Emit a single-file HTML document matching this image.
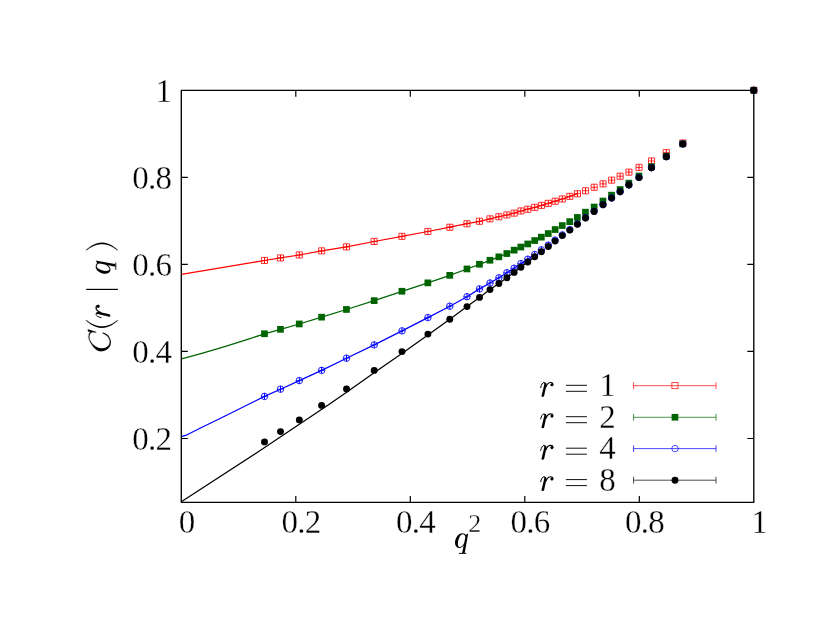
<!DOCTYPE html>
<html><head><meta charset="utf-8"><title>C(r|q) vs q^2</title>
<style>
html,body{margin:0;padding:0;background:#fff;}
body{width:830px;height:642px;overflow:hidden;position:relative;font-family:"Liberation Serif",serif;}
</style></head><body>
<svg width="830" height="642" viewBox="0 0 830 642" style="position:absolute;left:0;top:0;will-change:transform">
<rect x="0" y="0" width="830" height="642" fill="#fff"/>
<defs><g id="cmr"><path d="M0.6,-8.9 C1.2,-11.9 2.5,-13.9 4.0,-13.9 C5.0,-13.9 5.5,-12.9 5.3,-11.3" fill="none" stroke="#000" stroke-width="1.0" stroke-linecap="round"/><path d="M4.0,-13.6 C5.3,-14.2 6.7,-13.2 6.4,-11.6 L4.0,-0.4 C3.8,0.7 1.2,0.7 1.4,-0.5 L4.2,-12.0 Z" fill="#000" stroke="none"/><path d="M5.7,-9.3 C6.7,-12.0 8.6,-13.9 10.6,-13.9 C11.8,-13.9 12.8,-13.2 12.9,-12.0" fill="none" stroke="#000" stroke-width="1.15" stroke-linecap="round"/><circle cx="11.8" cy="-11.7" r="1.55" fill="#000" stroke="none"/></g><g id="cmq"><path d="M11.4,-11.3 C10.9,-13.1 9.4,-14.3 7.2,-14.3 C3.4,-14.3 0,-9.5 0,-4.8 C0,-1.5 1.8,0.45 4.2,0.45 C6.3,0.45 8.2,-1.1 9.6,-3.3 L9.3,-4.9 C8.2,-2.5 6.6,-0.55 4.9,-0.55 C3.5,-0.55 2.9,-1.9 2.9,-3.7 C2.9,-7.5 5.0,-13.35 7.6,-13.35 C9.2,-13.35 10.3,-12.0 10.6,-10.2 Z" fill="#000" stroke="none"/><path d="M10.9,-12.9 L13.2,-14.0 L9.7,5.4 L7.1,5.4 Z" fill="#000" stroke="none"/><path d="M4.0,5.8 H11.3" stroke="#000" stroke-width="0.95" fill="none"/></g><g id="cmC"><path d="M20.7,-19.4 C19.0,-21.3 16.5,-21.9 14.0,-21.4 C8.5,-19.8 0.6,-14.5 0.6,-9.3 C0.6,-3.6 4.5,0.9 9.9,0.9 C14.5,0.9 18.6,-2.5 19.6,-7.3 L18.6,-7.6 C17.5,-3.6 14.0,-0.35 10.3,-0.35 C6.6,-0.35 3.8,-3.2 3.8,-8.0 C3.8,-13.6 9.3,-20.4 14.8,-20.4 C17.2,-20.6 19.0,-19.6 19.8,-17.6 Z" fill="#000" stroke="none"/><path d="M22.8,-22.2 L20.5,-21.9 L19.3,-14.0 L20.1,-13.5 Z" fill="#000" stroke="none"/></g></defs>
<polyline fill="none" stroke="#ff0000" stroke-width="1.25" stroke-linejoin="round" points="181.4,274.4 264.5,260.5 280.5,257.9 299.3,255.0 321.6,250.9 346.5,246.9 374.2,241.5 402.0,236.4 427.9,231.5 449.8,227.2 467.0,223.7 479.5,221.3 490.0,218.9 498.9,216.7 506.9,215.0 514.1,213.1 520.9,211.0 527.8,209.2 534.7,207.4 541.4,205.4 548.3,203.4 555.1,201.2 562.3,199.0 569.8,196.4 577.4,193.7"/>
<path d="M261.4 257.4h6.10v6.10h-6.10z M261.4 260.5h6.10" fill="none" stroke="#ff0000" stroke-width="0.8"/><path d="M264.5 257.4v6.10" stroke="#ff0000" stroke-width="1.0"/>
<path d="M277.4 254.9h6.10v6.10h-6.10z M277.4 257.9h6.10" fill="none" stroke="#ff0000" stroke-width="0.8"/><path d="M280.5 254.9v6.10" stroke="#ff0000" stroke-width="1.0"/>
<path d="M296.2 251.9h6.10v6.10h-6.10z M296.2 255.0h6.10" fill="none" stroke="#ff0000" stroke-width="0.8"/><path d="M299.3 251.9v6.10" stroke="#ff0000" stroke-width="1.0"/>
<path d="M318.6 247.8h6.10v6.10h-6.10z M318.6 250.9h6.10" fill="none" stroke="#ff0000" stroke-width="0.8"/><path d="M321.6 247.8v6.10" stroke="#ff0000" stroke-width="1.0"/>
<path d="M343.4 243.8h6.10v6.10h-6.10z M343.4 246.9h6.10" fill="none" stroke="#ff0000" stroke-width="0.8"/><path d="M346.5 243.8v6.10" stroke="#ff0000" stroke-width="1.0"/>
<path d="M371.1 238.4h6.10v6.10h-6.10z M371.1 241.5h6.10" fill="none" stroke="#ff0000" stroke-width="0.8"/><path d="M374.2 238.4v6.10" stroke="#ff0000" stroke-width="1.0"/>
<path d="M398.9 233.3h6.10v6.10h-6.10z M398.9 236.4h6.10" fill="none" stroke="#ff0000" stroke-width="0.8"/><path d="M402.0 233.3v6.10" stroke="#ff0000" stroke-width="1.0"/>
<path d="M424.8 228.4h6.10v6.10h-6.10z M424.8 231.5h6.10" fill="none" stroke="#ff0000" stroke-width="0.8"/><path d="M427.9 228.4v6.10" stroke="#ff0000" stroke-width="1.0"/>
<path d="M446.8 224.2h6.10v6.10h-6.10z M446.8 227.2h6.10" fill="none" stroke="#ff0000" stroke-width="0.8"/><path d="M449.8 224.2v6.10" stroke="#ff0000" stroke-width="1.0"/>
<path d="M463.9 220.7h6.10v6.10h-6.10z M463.9 223.7h6.10" fill="none" stroke="#ff0000" stroke-width="0.8"/><path d="M467.0 220.7v6.10" stroke="#ff0000" stroke-width="1.0"/>
<path d="M476.4 218.2h6.10v6.10h-6.10z M476.4 221.3h6.10" fill="none" stroke="#ff0000" stroke-width="0.8"/><path d="M479.5 218.2v6.10" stroke="#ff0000" stroke-width="1.0"/>
<path d="M486.9 215.8h6.10v6.10h-6.10z M486.9 218.9h6.10" fill="none" stroke="#ff0000" stroke-width="0.8"/><path d="M490.0 215.8v6.10" stroke="#ff0000" stroke-width="1.0"/>
<path d="M495.8 213.7h6.10v6.10h-6.10z M495.8 216.7h6.10" fill="none" stroke="#ff0000" stroke-width="0.8"/><path d="M498.9 213.7v6.10" stroke="#ff0000" stroke-width="1.0"/>
<path d="M503.8 211.9h6.10v6.10h-6.10z M503.8 215.0h6.10" fill="none" stroke="#ff0000" stroke-width="0.8"/><path d="M506.9 211.9v6.10" stroke="#ff0000" stroke-width="1.0"/>
<path d="M511.1 210.1h6.10v6.10h-6.10z M511.1 213.1h6.10" fill="none" stroke="#ff0000" stroke-width="0.8"/><path d="M514.1 210.1v6.10" stroke="#ff0000" stroke-width="1.0"/>
<path d="M517.9 207.9h6.10v6.10h-6.10z M517.9 211.0h6.10" fill="none" stroke="#ff0000" stroke-width="0.8"/><path d="M520.9 207.9v6.10" stroke="#ff0000" stroke-width="1.0"/>
<path d="M524.8 206.2h6.10v6.10h-6.10z M524.8 209.2h6.10" fill="none" stroke="#ff0000" stroke-width="0.8"/><path d="M527.8 206.2v6.10" stroke="#ff0000" stroke-width="1.0"/>
<path d="M531.7 204.3h6.10v6.10h-6.10z M531.7 207.4h6.10" fill="none" stroke="#ff0000" stroke-width="0.8"/><path d="M534.7 204.3v6.10" stroke="#ff0000" stroke-width="1.0"/>
<path d="M538.4 202.3h6.10v6.10h-6.10z M538.4 205.4h6.10" fill="none" stroke="#ff0000" stroke-width="0.8"/><path d="M541.4 202.3v6.10" stroke="#ff0000" stroke-width="1.0"/>
<path d="M545.2 200.3h6.10v6.10h-6.10z M545.2 203.4h6.10" fill="none" stroke="#ff0000" stroke-width="0.8"/><path d="M548.3 200.3v6.10" stroke="#ff0000" stroke-width="1.0"/>
<path d="M552.1 198.2h6.10v6.10h-6.10z M552.1 201.2h6.10" fill="none" stroke="#ff0000" stroke-width="0.8"/><path d="M555.1 198.2v6.10" stroke="#ff0000" stroke-width="1.0"/>
<path d="M559.2 195.9h6.10v6.10h-6.10z M559.2 199.0h6.10" fill="none" stroke="#ff0000" stroke-width="0.8"/><path d="M562.3 195.9v6.10" stroke="#ff0000" stroke-width="1.0"/>
<path d="M566.8 193.3h6.10v6.10h-6.10z M566.8 196.4h6.10" fill="none" stroke="#ff0000" stroke-width="0.8"/><path d="M569.8 193.3v6.10" stroke="#ff0000" stroke-width="1.0"/>
<path d="M574.4 190.7h6.10v6.10h-6.10z M574.4 193.7h6.10" fill="none" stroke="#ff0000" stroke-width="0.8"/><path d="M577.4 190.7v6.10" stroke="#ff0000" stroke-width="1.0"/>
<path d="M582.5 187.7h6.10v6.10h-6.10z M582.5 190.7h6.10" fill="none" stroke="#ff0000" stroke-width="0.8"/><path d="M585.5 187.7v6.10" stroke="#ff0000" stroke-width="1.0"/>
<path d="M591.1 184.2h6.10v6.10h-6.10z M591.1 187.3h6.10" fill="none" stroke="#ff0000" stroke-width="0.8"/><path d="M594.1 184.2v6.10" stroke="#ff0000" stroke-width="1.0"/>
<path d="M600.0 180.8h6.10v6.10h-6.10z M600.0 183.9h6.10" fill="none" stroke="#ff0000" stroke-width="0.8"/><path d="M603.0 180.8v6.10" stroke="#ff0000" stroke-width="1.0"/>
<path d="M608.6 177.1h6.10v6.10h-6.10z M608.6 180.1h6.10" fill="none" stroke="#ff0000" stroke-width="0.8"/><path d="M611.6 177.1v6.10" stroke="#ff0000" stroke-width="1.0"/>
<path d="M617.1 173.2h6.10v6.10h-6.10z M617.1 176.2h6.10" fill="none" stroke="#ff0000" stroke-width="0.8"/><path d="M620.1 173.2v6.10" stroke="#ff0000" stroke-width="1.0"/>
<path d="M625.9 169.1h6.10v6.10h-6.10z M625.9 172.1h6.10" fill="none" stroke="#ff0000" stroke-width="0.8"/><path d="M628.9 169.1v6.10" stroke="#ff0000" stroke-width="1.0"/>
<path d="M636.0 164.3h6.10v6.10h-6.10z M636.0 167.4h6.10" fill="none" stroke="#ff0000" stroke-width="0.8"/><path d="M639.0 164.3v6.10" stroke="#ff0000" stroke-width="1.0"/>
<path d="M648.5 157.9h6.10v6.10h-6.10z M648.5 161.0h6.10" fill="none" stroke="#ff0000" stroke-width="0.8"/><path d="M651.5 157.9v6.10" stroke="#ff0000" stroke-width="1.0"/>
<path d="M663.2 149.6h6.10v6.10h-6.10z M663.2 152.6h6.10" fill="none" stroke="#ff0000" stroke-width="0.8"/><path d="M666.3 149.6v6.10" stroke="#ff0000" stroke-width="1.0"/>
<path d="M679.8 139.9h6.10v6.10h-6.10z M679.8 143.0h6.10" fill="none" stroke="#ff0000" stroke-width="0.8"/><path d="M682.8 139.9v6.10" stroke="#ff0000" stroke-width="1.0"/>
<path d="M750.8 87.2h6.10v6.10h-6.10z M750.8 90.3h6.10" fill="none" stroke="#ff0000" stroke-width="0.8"/><path d="M753.8 87.2v6.10" stroke="#ff0000" stroke-width="1.0"/>
<polyline fill="none" stroke="#006400" stroke-width="1.25" stroke-linejoin="round" points="181.4,358.9 190.0,356.6 200.0,353.8 212.0,350.4 223.0,347.1 235.0,343.4 250.0,338.6 264.5,333.8 280.5,329.4 299.3,324.0 321.6,317.2 346.5,309.5 374.2,300.7 402.0,291.3 427.9,282.9 449.8,275.4 467.0,269.0 479.5,264.3 490.0,260.3 498.9,256.9 506.9,253.5 514.1,250.1 520.9,247.0 527.8,243.9 534.7,240.5"/>
<rect x="261.1" y="330.4" width="6.7" height="6.7" fill="#006400"/>
<rect x="277.1" y="326.0" width="6.7" height="6.7" fill="#006400"/>
<rect x="295.9" y="320.6" width="6.7" height="6.7" fill="#006400"/>
<rect x="318.2" y="313.8" width="6.7" height="6.7" fill="#006400"/>
<rect x="343.1" y="306.1" width="6.7" height="6.7" fill="#006400"/>
<rect x="370.8" y="297.3" width="6.7" height="6.7" fill="#006400"/>
<rect x="398.6" y="287.9" width="6.7" height="6.7" fill="#006400"/>
<rect x="424.5" y="279.5" width="6.7" height="6.7" fill="#006400"/>
<rect x="446.4" y="272.0" width="6.7" height="6.7" fill="#006400"/>
<rect x="463.6" y="265.6" width="6.7" height="6.7" fill="#006400"/>
<rect x="476.1" y="260.9" width="6.7" height="6.7" fill="#006400"/>
<rect x="486.6" y="256.9" width="6.7" height="6.7" fill="#006400"/>
<rect x="495.5" y="253.5" width="6.7" height="6.7" fill="#006400"/>
<rect x="503.5" y="250.2" width="6.7" height="6.7" fill="#006400"/>
<rect x="510.8" y="246.8" width="6.7" height="6.7" fill="#006400"/>
<rect x="517.5" y="243.7" width="6.7" height="6.7" fill="#006400"/>
<rect x="524.4" y="240.6" width="6.7" height="6.7" fill="#006400"/>
<rect x="531.4" y="237.2" width="6.7" height="6.7" fill="#006400"/>
<rect x="538.0" y="233.8" width="6.7" height="6.7" fill="#006400"/>
<rect x="544.9" y="230.2" width="6.7" height="6.7" fill="#006400"/>
<rect x="551.8" y="226.2" width="6.7" height="6.7" fill="#006400"/>
<rect x="558.9" y="222.2" width="6.7" height="6.7" fill="#006400"/>
<rect x="566.4" y="218.3" width="6.7" height="6.7" fill="#006400"/>
<rect x="574.0" y="214.1" width="6.7" height="6.7" fill="#006400"/>
<rect x="582.1" y="208.8" width="6.7" height="6.7" fill="#006400"/>
<rect x="590.8" y="203.7" width="6.7" height="6.7" fill="#006400"/>
<rect x="599.6" y="197.7" width="6.7" height="6.7" fill="#006400"/>
<rect x="608.2" y="191.8" width="6.7" height="6.7" fill="#006400"/>
<rect x="616.8" y="186.2" width="6.7" height="6.7" fill="#006400"/>
<rect x="625.5" y="179.8" width="6.7" height="6.7" fill="#006400"/>
<rect x="635.6" y="172.6" width="6.7" height="6.7" fill="#006400"/>
<rect x="648.1" y="163.2" width="6.7" height="6.7" fill="#006400"/>
<rect x="662.9" y="152.8" width="6.7" height="6.7" fill="#006400"/>
<rect x="679.4" y="140.5" width="6.7" height="6.7" fill="#006400"/>
<rect x="750.4" y="87.0" width="6.7" height="6.7" fill="#006400"/>
<polyline fill="none" stroke="#0000ff" stroke-width="1.25" stroke-linejoin="round" points="181.4,436.6 187.1,434.8 200.0,428.3 225.6,415.8 264.5,396.4 280.5,389.2 299.3,380.6 321.6,370.4 346.5,358.2 374.2,344.9 402.0,330.9 427.9,317.6 449.8,306.2 467.0,296.7 479.5,288.9 490.0,283.0 498.9,277.8 506.9,272.7 514.1,268.2 520.9,263.6 527.8,259.2 534.7,254.5"/>
<circle cx="264.5" cy="396.4" r="3.25" fill="none" stroke="#0000ff" stroke-width="0.85"/>
<path d="M261.2 396.4h6.50" stroke="#0000ff" stroke-width="0.8"/><path d="M264.5 393.1v6.50" stroke="#0000ff" stroke-width="1.05"/>
<circle cx="280.5" cy="389.2" r="3.25" fill="none" stroke="#0000ff" stroke-width="0.85"/>
<path d="M277.2 389.2h6.50" stroke="#0000ff" stroke-width="0.8"/><path d="M280.5 385.9v6.50" stroke="#0000ff" stroke-width="1.05"/>
<circle cx="299.3" cy="380.6" r="3.25" fill="none" stroke="#0000ff" stroke-width="0.85"/>
<path d="M296.1 380.6h6.50" stroke="#0000ff" stroke-width="0.8"/><path d="M299.3 377.3v6.50" stroke="#0000ff" stroke-width="1.05"/>
<circle cx="321.6" cy="370.4" r="3.25" fill="none" stroke="#0000ff" stroke-width="0.85"/>
<path d="M318.4 370.4h6.50" stroke="#0000ff" stroke-width="0.8"/><path d="M321.6 367.1v6.50" stroke="#0000ff" stroke-width="1.05"/>
<circle cx="346.5" cy="358.2" r="3.25" fill="none" stroke="#0000ff" stroke-width="0.85"/>
<path d="M343.2 358.2h6.50" stroke="#0000ff" stroke-width="0.8"/><path d="M346.5 354.9v6.50" stroke="#0000ff" stroke-width="1.05"/>
<circle cx="374.2" cy="344.9" r="3.25" fill="none" stroke="#0000ff" stroke-width="0.85"/>
<path d="M370.9 344.9h6.50" stroke="#0000ff" stroke-width="0.8"/><path d="M374.2 341.6v6.50" stroke="#0000ff" stroke-width="1.05"/>
<circle cx="402.0" cy="330.9" r="3.25" fill="none" stroke="#0000ff" stroke-width="0.85"/>
<path d="M398.8 330.9h6.50" stroke="#0000ff" stroke-width="0.8"/><path d="M402.0 327.6v6.50" stroke="#0000ff" stroke-width="1.05"/>
<circle cx="427.9" cy="317.6" r="3.25" fill="none" stroke="#0000ff" stroke-width="0.85"/>
<path d="M424.6 317.6h6.50" stroke="#0000ff" stroke-width="0.8"/><path d="M427.9 314.3v6.50" stroke="#0000ff" stroke-width="1.05"/>
<circle cx="449.8" cy="306.2" r="3.25" fill="none" stroke="#0000ff" stroke-width="0.85"/>
<path d="M446.6 306.2h6.50" stroke="#0000ff" stroke-width="0.8"/><path d="M449.8 302.9v6.50" stroke="#0000ff" stroke-width="1.05"/>
<circle cx="467.0" cy="296.7" r="3.25" fill="none" stroke="#0000ff" stroke-width="0.85"/>
<path d="M463.8 296.7h6.50" stroke="#0000ff" stroke-width="0.8"/><path d="M467.0 293.4v6.50" stroke="#0000ff" stroke-width="1.05"/>
<circle cx="479.5" cy="288.9" r="3.25" fill="none" stroke="#0000ff" stroke-width="0.85"/>
<path d="M476.2 288.9h6.50" stroke="#0000ff" stroke-width="0.8"/><path d="M479.5 285.6v6.50" stroke="#0000ff" stroke-width="1.05"/>
<circle cx="490.0" cy="283.0" r="3.25" fill="none" stroke="#0000ff" stroke-width="0.85"/>
<path d="M486.8 283.0h6.50" stroke="#0000ff" stroke-width="0.8"/><path d="M490.0 279.8v6.50" stroke="#0000ff" stroke-width="1.05"/>
<circle cx="498.9" cy="277.8" r="3.25" fill="none" stroke="#0000ff" stroke-width="0.85"/>
<path d="M495.6 277.8h6.50" stroke="#0000ff" stroke-width="0.8"/><path d="M498.9 274.6v6.50" stroke="#0000ff" stroke-width="1.05"/>
<circle cx="506.9" cy="272.7" r="3.25" fill="none" stroke="#0000ff" stroke-width="0.85"/>
<path d="M503.6 272.7h6.50" stroke="#0000ff" stroke-width="0.8"/><path d="M506.9 269.4v6.50" stroke="#0000ff" stroke-width="1.05"/>
<circle cx="514.1" cy="268.2" r="3.25" fill="none" stroke="#0000ff" stroke-width="0.85"/>
<path d="M510.9 268.2h6.50" stroke="#0000ff" stroke-width="0.8"/><path d="M514.1 264.9v6.50" stroke="#0000ff" stroke-width="1.05"/>
<circle cx="520.9" cy="263.6" r="3.25" fill="none" stroke="#0000ff" stroke-width="0.85"/>
<path d="M517.6 263.6h6.50" stroke="#0000ff" stroke-width="0.8"/><path d="M520.9 260.4v6.50" stroke="#0000ff" stroke-width="1.05"/>
<circle cx="527.8" cy="259.2" r="3.25" fill="none" stroke="#0000ff" stroke-width="0.85"/>
<path d="M524.5 259.2h6.50" stroke="#0000ff" stroke-width="0.8"/><path d="M527.8 255.9v6.50" stroke="#0000ff" stroke-width="1.05"/>
<circle cx="534.7" cy="254.5" r="3.25" fill="none" stroke="#0000ff" stroke-width="0.85"/>
<path d="M531.5 254.5h6.50" stroke="#0000ff" stroke-width="0.8"/><path d="M534.7 251.2v6.50" stroke="#0000ff" stroke-width="1.05"/>
<circle cx="541.4" cy="249.8" r="3.25" fill="none" stroke="#0000ff" stroke-width="0.85"/>
<path d="M538.1 249.8h6.50" stroke="#0000ff" stroke-width="0.8"/><path d="M541.4 246.5v6.50" stroke="#0000ff" stroke-width="1.05"/>
<circle cx="548.3" cy="245.1" r="3.25" fill="none" stroke="#0000ff" stroke-width="0.85"/>
<path d="M545.0 245.1h6.50" stroke="#0000ff" stroke-width="0.8"/><path d="M548.3 241.8v6.50" stroke="#0000ff" stroke-width="1.05"/>
<circle cx="555.1" cy="240.1" r="3.25" fill="none" stroke="#0000ff" stroke-width="0.85"/>
<path d="M551.9 240.1h6.50" stroke="#0000ff" stroke-width="0.8"/><path d="M555.1 236.8v6.50" stroke="#0000ff" stroke-width="1.05"/>
<circle cx="562.3" cy="234.9" r="3.25" fill="none" stroke="#0000ff" stroke-width="0.85"/>
<path d="M559.0 234.9h6.50" stroke="#0000ff" stroke-width="0.8"/><path d="M562.3 231.7v6.50" stroke="#0000ff" stroke-width="1.05"/>
<circle cx="569.8" cy="229.6" r="3.25" fill="none" stroke="#0000ff" stroke-width="0.85"/>
<path d="M566.5 229.6h6.50" stroke="#0000ff" stroke-width="0.8"/><path d="M569.8 226.3v6.50" stroke="#0000ff" stroke-width="1.05"/>
<circle cx="577.4" cy="223.9" r="3.25" fill="none" stroke="#0000ff" stroke-width="0.85"/>
<path d="M574.1 223.9h6.50" stroke="#0000ff" stroke-width="0.8"/><path d="M577.4 220.7v6.50" stroke="#0000ff" stroke-width="1.05"/>
<circle cx="585.5" cy="217.7" r="3.25" fill="none" stroke="#0000ff" stroke-width="0.85"/>
<path d="M582.2 217.7h6.50" stroke="#0000ff" stroke-width="0.8"/><path d="M585.5 214.4v6.50" stroke="#0000ff" stroke-width="1.05"/>
<circle cx="594.1" cy="211.3" r="3.25" fill="none" stroke="#0000ff" stroke-width="0.85"/>
<path d="M590.9 211.3h6.50" stroke="#0000ff" stroke-width="0.8"/><path d="M594.1 208.1v6.50" stroke="#0000ff" stroke-width="1.05"/>
<circle cx="603.0" cy="204.6" r="3.25" fill="none" stroke="#0000ff" stroke-width="0.85"/>
<path d="M599.8 204.6h6.50" stroke="#0000ff" stroke-width="0.8"/><path d="M603.0 201.3v6.50" stroke="#0000ff" stroke-width="1.05"/>
<circle cx="611.6" cy="198.0" r="3.25" fill="none" stroke="#0000ff" stroke-width="0.85"/>
<path d="M608.4 198.0h6.50" stroke="#0000ff" stroke-width="0.8"/><path d="M611.6 194.8v6.50" stroke="#0000ff" stroke-width="1.05"/>
<circle cx="620.1" cy="191.7" r="3.25" fill="none" stroke="#0000ff" stroke-width="0.85"/>
<path d="M616.9 191.7h6.50" stroke="#0000ff" stroke-width="0.8"/><path d="M620.1 188.5v6.50" stroke="#0000ff" stroke-width="1.05"/>
<circle cx="628.9" cy="184.9" r="3.25" fill="none" stroke="#0000ff" stroke-width="0.85"/>
<path d="M625.6 184.9h6.50" stroke="#0000ff" stroke-width="0.8"/><path d="M628.9 181.7v6.50" stroke="#0000ff" stroke-width="1.05"/>
<circle cx="639.0" cy="177.5" r="3.25" fill="none" stroke="#0000ff" stroke-width="0.85"/>
<path d="M635.8 177.5h6.50" stroke="#0000ff" stroke-width="0.8"/><path d="M639.0 174.2v6.50" stroke="#0000ff" stroke-width="1.05"/>
<circle cx="651.5" cy="167.7" r="3.25" fill="none" stroke="#0000ff" stroke-width="0.85"/>
<path d="M648.2 167.7h6.50" stroke="#0000ff" stroke-width="0.8"/><path d="M651.5 164.5v6.50" stroke="#0000ff" stroke-width="1.05"/>
<circle cx="666.3" cy="156.7" r="3.25" fill="none" stroke="#0000ff" stroke-width="0.85"/>
<path d="M663.0 156.7h6.50" stroke="#0000ff" stroke-width="0.8"/><path d="M666.3 153.4v6.50" stroke="#0000ff" stroke-width="1.05"/>
<circle cx="682.8" cy="143.9" r="3.25" fill="none" stroke="#0000ff" stroke-width="0.85"/>
<path d="M679.5 143.9h6.50" stroke="#0000ff" stroke-width="0.8"/><path d="M682.8 140.7v6.50" stroke="#0000ff" stroke-width="1.05"/>
<circle cx="753.8" cy="90.3" r="3.25" fill="none" stroke="#0000ff" stroke-width="0.85"/>
<path d="M750.5 90.3h6.50" stroke="#0000ff" stroke-width="0.8"/><path d="M753.8 87.0v6.50" stroke="#0000ff" stroke-width="1.05"/>
<polyline fill="none" stroke="#000" stroke-width="1.25" stroke-linejoin="round" points="181.7,501.4 257.9,451.9 330.0,403.7 346.6,392.2 374.1,372.8 401.9,353.5 427.9,334.9 449.5,319.4 467.0,306.6 479.5,297.4 490.0,289.6 498.9,283.5 506.9,277.8 514.1,272.4 520.9,267.2 527.8,262.0 534.7,256.8"/>
<circle cx="264.5" cy="441.9" r="3.45" fill="#000"/>
<circle cx="280.5" cy="431.6" r="3.45" fill="#000"/>
<circle cx="299.3" cy="419.9" r="3.45" fill="#000"/>
<circle cx="321.6" cy="405.4" r="3.45" fill="#000"/>
<circle cx="346.5" cy="388.9" r="3.45" fill="#000"/>
<circle cx="374.2" cy="370.4" r="3.45" fill="#000"/>
<circle cx="402.0" cy="351.6" r="3.45" fill="#000"/>
<circle cx="427.9" cy="334.1" r="3.45" fill="#000"/>
<circle cx="449.8" cy="319.2" r="3.45" fill="#000"/>
<circle cx="467.0" cy="306.6" r="3.45" fill="#000"/>
<circle cx="479.5" cy="297.4" r="3.45" fill="#000"/>
<circle cx="490.0" cy="289.6" r="3.45" fill="#000"/>
<circle cx="498.9" cy="283.5" r="3.45" fill="#000"/>
<circle cx="506.9" cy="277.8" r="3.45" fill="#000"/>
<circle cx="514.1" cy="272.4" r="3.45" fill="#000"/>
<circle cx="520.9" cy="267.2" r="3.45" fill="#000"/>
<circle cx="527.8" cy="262.0" r="3.45" fill="#000"/>
<circle cx="534.7" cy="256.8" r="3.45" fill="#000"/>
<circle cx="541.4" cy="251.7" r="3.45" fill="#000"/>
<circle cx="548.3" cy="246.5" r="3.45" fill="#000"/>
<circle cx="555.1" cy="241.1" r="3.45" fill="#000"/>
<circle cx="562.3" cy="235.6" r="3.45" fill="#000"/>
<circle cx="569.8" cy="230.1" r="3.45" fill="#000"/>
<circle cx="577.4" cy="224.3" r="3.45" fill="#000"/>
<circle cx="585.5" cy="218.0" r="3.45" fill="#000"/>
<circle cx="594.1" cy="211.5" r="3.45" fill="#000"/>
<circle cx="603.0" cy="204.7" r="3.45" fill="#000"/>
<circle cx="611.6" cy="198.1" r="3.45" fill="#000"/>
<circle cx="620.1" cy="191.8" r="3.45" fill="#000"/>
<circle cx="628.9" cy="185.0" r="3.45" fill="#000"/>
<circle cx="639.0" cy="177.6" r="3.45" fill="#000"/>
<circle cx="651.5" cy="167.8" r="3.45" fill="#000"/>
<circle cx="666.3" cy="156.8" r="3.45" fill="#000"/>
<circle cx="682.8" cy="144.0" r="3.45" fill="#000"/>
<circle cx="753.8" cy="90.3" r="3.45" fill="#000"/>
<rect x="181.3" y="90.3" width="572.5" height="412.1" fill="none" stroke="#000" stroke-width="1.35" stroke-linejoin="round"/>
<path d="M295.8 502.4v-6.5 M295.8 90.3v6.5 M410.3 502.4v-6.5 M410.3 90.3v6.5 M524.8 502.4v-6.5 M524.8 90.3v6.5 M639.3 502.4v-6.5 M639.3 90.3v6.5 M181.3 438.5h6.5 M753.8 438.5h-6.5 M181.3 351.4h6.5 M753.8 351.4h-6.5 M181.3 264.4h6.5 M753.8 264.4h-6.5 M181.3 177.3h6.5 M753.8 177.3h-6.5" stroke="#000" stroke-width="1.2" fill="none"/>
<g opacity="0.999" style="font-family:'Liberation Serif',serif" font-size="33" letter-spacing="-0.7" fill="#000" stroke="#fff" stroke-width="0.3">
<text x="171.3" y="101.7" text-anchor="end">1</text>
<text x="171.3" y="188.7" text-anchor="end">0.8</text>
<text x="171.3" y="275.8" text-anchor="end">0.6</text>
<text x="171.3" y="362.8" text-anchor="end">0.4</text>
<text x="171.3" y="449.9" text-anchor="end">0.2</text>
<text x="186.6" y="532.7" text-anchor="middle">0</text>
<text x="301.1" y="532.7" text-anchor="middle">0.2</text>
<text x="415.6" y="532.7" text-anchor="middle">0.4</text>
<text x="530.1" y="532.7" text-anchor="middle">0.6</text>
<text x="644.6" y="532.7" text-anchor="middle">0.8</text>
<text x="759.1" y="532.7" text-anchor="middle">1</text>
<use href="#cmq" x="455.0" y="547.6"/>
<text x="468.3" y="532.3" font-size="26">2</text>
<g transform="translate(109.9,352) rotate(-90)">
<use href="#cmC" x="0" y="0"/>
<path transform="translate(-0.65,0)" d="M32.2,-23.9 C27.8,-19.2 24.7,-13.6 24.7,-7.9 C24.7,-2.2 27.8,3.4 32.2,8.1 L32.75,7.7 C28.9,3.2 26.4,-2.4 26.4,-7.9 C26.4,-13.4 28.9,-19 32.75,-23.5 Z" fill="#000" stroke="none"/>
<use href="#cmr" x="33.8" y="0"/>
<path d="M62.6 -23.8V8.0" stroke="#000" stroke-width="1.2"/>
<use href="#cmq" x="78.2" y="0"/>
<path d="M102.0,-23.9 C106.4,-19.2 109.5,-13.6 109.5,-7.9 C109.5,-2.2 106.4,3.4 102.0,8.1 L101.45,7.7 C105.3,3.2 107.8,-2.4 107.8,-7.9 C107.8,-13.4 105.3,-19 101.45,-23.5 Z" fill="#000" stroke="none"/>
</g>
<use href="#cmr" x="540.1" y="396.4"/>
<path d="M565.9 385.3h21 M565.9 391.3h21" stroke="#000" stroke-width="0.95"/>
<text x="607.2" y="396.4" text-anchor="middle">1</text>
<use href="#cmr" x="540.1" y="427.8"/>
<path d="M565.9 416.7h21 M565.9 422.7h21" stroke="#000" stroke-width="0.95"/>
<text x="607.2" y="427.8" text-anchor="middle">2</text>
<use href="#cmr" x="540.1" y="459.3"/>
<path d="M565.9 448.2h21 M565.9 454.2h21" stroke="#000" stroke-width="0.95"/>
<text x="607.2" y="459.3" text-anchor="middle">4</text>
<use href="#cmr" x="540.1" y="490.6"/>
<path d="M565.9 479.6h21 M565.9 485.6h21" stroke="#000" stroke-width="0.95"/>
<text x="607.2" y="490.6" text-anchor="middle">8</text>
</g>
<path d="M633.6 385.7H716 M633.6 382.3v6.8 M716 382.3v6.8" stroke="#ff0000" stroke-width="0.7" fill="none"/>
<rect x="671.9" y="382.6" width="6.1" height="6.1" fill="none" stroke="#ff0000" stroke-width="0.7"/>
<path d="M633.6 417.3H716 M633.6 413.9v6.8 M716 413.9v6.8" stroke="#006400" stroke-width="0.7" fill="none"/>
<rect x="671.6" y="413.9" width="6.7" height="6.7" fill="#006400"/>
<path d="M633.6 448.6H716 M633.6 445.2v6.8 M716 445.2v6.8" stroke="#0000ff" stroke-width="0.7" fill="none"/>
<circle cx="675.0" cy="448.6" r="3.25" fill="none" stroke="#0000ff" stroke-width="0.7"/>
<path d="M633.6 480.2H716 M633.6 476.8v6.8 M716 476.8v6.8" stroke="#000000" stroke-width="0.7" fill="none"/>
<circle cx="675.0" cy="480.2" r="3.45" fill="#000000"/>
</svg>
</body></html>
